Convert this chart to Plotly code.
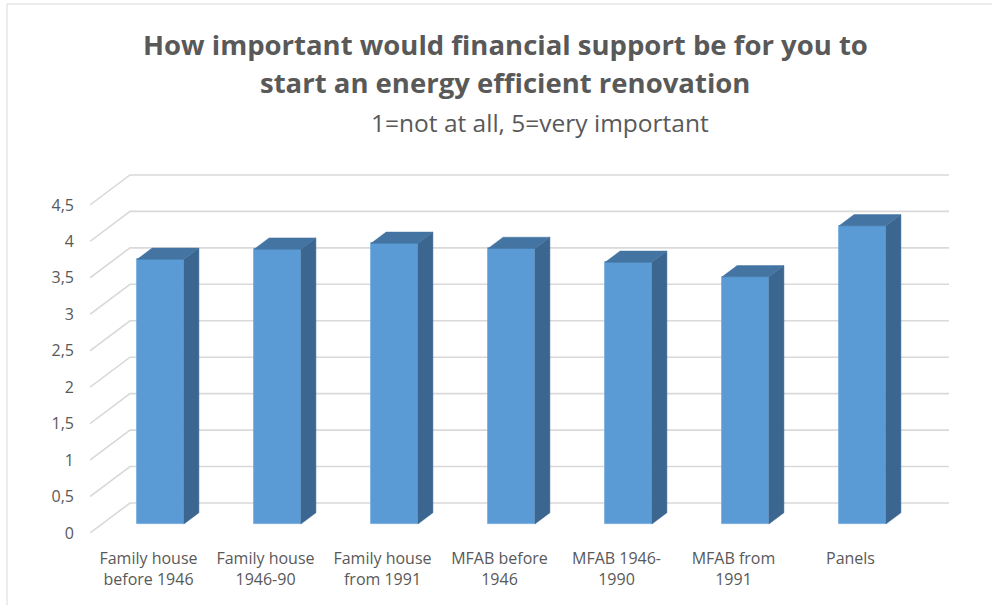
import plotly.graph_objects as go

# Survey results: mean rating per building type
categories = ["Family house<br>before 1946", "Family house<br>1946-90", "Family house<br>from 1991",
              "MFAB before<br>1946", "MFAB 1946-<br>1990", "MFAB from<br>1991", "Panels"]
values = [3.63, 3.77, 3.85, 3.78, 3.59, 3.39, 4.09]
y_ticks = [0, 0.5, 1, 1.5, 2, 2.5, 3, 3.5, 4, 4.5]

title_lines = ["How important would financial support be for you to",
               "start an energy efficient renovation"]
subtitle = "1=not at all, 5=very important"

# Canvas / plot area geometry (pixels)
W, H = 992, 605
ML, MR, MT, MB = 90, 43, 168, 72
PW, PH = W - ML - MR, H - MT - MB
PX_PER_CAT = 117.0
PX_PER_UNIT = 72.9

# Oblique depth vector in data units (40 px right, 30 px up over full depth)
DX = 40 / PX_PER_CAT
DY = 30 / PX_PER_UNIT
D_FRONT, D_BACK = 0.30, 0.675   # bar depth span as a fraction of the full depth
HALF_W = 0.2

x_min = -0.5
x_max = x_min + PW / PX_PER_CAT
y_max = PH / PX_PER_UNIT

GRID = "#D9D9D9"
TXT = "#595959"
FRONT = "#5B9BD5"
SIDE = "#3B6690"
TOP = "#4474A1"
FONT = "Open Sans"

fig = go.Figure()
n = len(categories)
xs = list(range(n))

# Side wall diagonals and back wall gridlines, kept beneath the columns
shapes = []
for v in y_ticks:
    shapes.append(dict(type="path", xref="x", yref="y", layer="below",
                       path=f"M {x_min},{v} L {x_min + DX},{v + DY} L {n - 0.5 + DX},{v + DY}",
                       line=dict(color=GRID, width=1.6)))

# Front faces of the columns
fig.add_trace(go.Bar(x=[c + D_FRONT * DX for c in xs], y=values, base=D_FRONT * DY,
                     width=2 * HALF_W, marker=dict(color=FRONT, line=dict(color="#6FA6DA", width=0.8)),
                     showlegend=False, hoverinfo="skip"))

# Right side faces and top faces
sx, sy, tx, ty = [], [], [], []
for c, v in zip(xs, values):
    r1 = c + HALF_W + D_FRONT * DX
    r2 = c + HALF_W + D_BACK * DX
    l1 = c - HALF_W + D_FRONT * DX
    l2 = c - HALF_W + D_BACK * DX
    b1, b2 = D_FRONT * DY, D_BACK * DY
    sx += [r1, r2, r2, r1, r1, None]
    sy += [b1, b2, v + b2, v + b1, b1, None]
    tx += [l1, r1, r2, l2, l1, None]
    ty += [v + b1, v + b1, v + b2, v + b2, v + b1, None]
fig.add_trace(go.Scatter(x=sx, y=sy, mode="lines", fill="toself", fillcolor=SIDE,
                         line=dict(color=SIDE, width=0.5), hoverinfo="skip", showlegend=False))
fig.add_trace(go.Scatter(x=tx, y=ty, mode="lines", fill="toself", fillcolor=TOP,
                         line=dict(color=TOP, width=0.5), hoverinfo="skip", showlegend=False))


def px_x(px):
    return (px - ML) / PW


def px_y(py):
    return (H - MB - py) / PH


annotations = [
    dict(text=f"<b>{title_lines[0]}</b>", x=px_x(505), y=px_y(45), font=dict(size=27.5, color=TXT)),
    dict(text=f"<b>{title_lines[1]}</b>", x=px_x(505), y=px_y(82), font=dict(size=27.5, color=TXT)),
    dict(text=subtitle, x=px_x(540), y=px_y(122), font=dict(size=24.5, color=TXT)),
]
for a in annotations:
    a.update(xref="paper", yref="paper", xanchor="center", yanchor="middle", showarrow=False)

shapes.append(dict(type="rect", xref="paper", yref="paper",
                   x0=px_x(7), x1=px_x(1200), y0=px_y(900), y1=px_y(4),
                   line=dict(color=GRID, width=1), fillcolor="rgba(0,0,0,0)", layer="below"))

fig.update_layout(
    width=W, height=H,
    margin=dict(l=ML, r=MR, t=MT, b=MB, pad=0),
    paper_bgcolor="white", plot_bgcolor="white",
    font=dict(family=FONT, color=TXT),
    separators=", ",
    bargap=0,
    annotations=annotations,
    shapes=shapes,
    xaxis=dict(range=[x_min, x_max], tickvals=xs, ticktext=categories, showgrid=False,
               zeroline=False, showline=False, ticks="", tickfont=dict(size=16, color=TXT),
               ticklabelstandoff=14, fixedrange=True),
    yaxis=dict(range=[0, y_max], tickvals=y_ticks, showgrid=False, zeroline=False,
               showline=False, ticks="", tickfont=dict(size=16, color=TXT),
               ticklabelstandoff=15, fixedrange=True),
)

fig.write_html("out.html")
